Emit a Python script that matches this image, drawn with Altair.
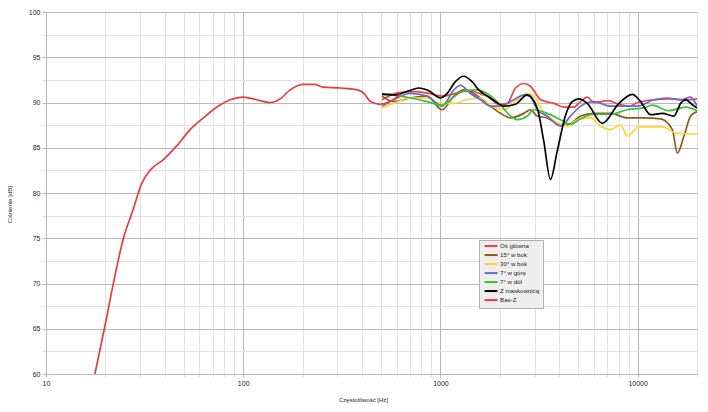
import altair as alt
import pandas as pd

# ---- data ----
bas_f = [17.7, 19.9, 22.0, 24.7, 27.7, 30.5, 33.7, 39.4, 46, 53.8, 62.8, 73.6, 86, 100,
         117, 137, 154, 173, 203, 228, 254, 311, 379, 409, 442, 494, 555, 624]
bas_db = [60.0, 65.3, 70.1, 75.0, 78.2, 81.0, 82.5, 83.7, 85.2, 87.0, 88.3, 89.5, 90.3, 90.6,
          90.3, 90.0, 90.4, 91.4, 92.0, 92.0, 91.7, 91.6, 91.4, 91.0, 90.1, 89.8, 90.1, 90.9]

os_f = [506, 614, 747, 873, 1020, 1191, 1393, 1628, 1795, 1968, 2178, 2404, 2650, 2862, 3220,
        3760, 4230, 4750, 5139, 5555, 6000, 7100, 8040, 9000, 10000, 12000, 14400, 17500, 20000]
os_db = [90.3, 91.1, 91.2, 91.0, 90.7, 91.0, 91.3, 90.9, 90.5, 89.8, 89.9, 91.6, 92.1, 91.8, 90.3,
         89.9, 89.5, 89.5, 90.1, 90.6, 90.0, 90.2, 89.8, 89.6, 90.0, 90.3, 90.4, 90.3, 90.4]

b15_f = [506, 579, 705, 855, 1020, 1169, 1313, 1476, 1725, 2019, 2270, 2648, 2862, 3095, 3478,
         4066, 4395, 5139, 6000, 7294, 8860, 10760, 13090, 15000, 15900, 17180, 18570, 20000]
b15_db = [90.7, 90.1, 90.5, 90.7, 89.2, 90.7, 91.4, 91.0, 89.9, 88.8, 88.3, 88.8, 89.2, 88.5, 88.3,
          87.5, 87.5, 88.5, 88.8, 88.8, 88.3, 88.3, 88.2, 87.0, 84.4, 86.3, 88.5, 89.0]

b30_f = [506, 579, 705, 855, 1000, 1169, 1365, 1596, 1795, 2096, 2448, 2755, 2977, 3347, 3692,
         4400, 4945, 5772, 6489, 7294, 8200, 8870, 10150, 13350, 15750, 20000]
b30_db = [89.4, 89.9, 90.5, 90.5, 89.9, 89.9, 90.3, 90.5, 89.7, 89.2, 90.3, 91.0, 90.7, 88.8, 88.1,
          87.4, 88.1, 88.3, 87.4, 87.0, 87.5, 86.3, 87.3, 87.3, 86.6, 86.5]

up7_f = [506, 579, 705, 855, 1020, 1169, 1263, 1420, 1596, 1795, 2019, 2356, 2648, 2862, 3095,
         3478, 4066, 4571, 5139, 6000, 7294, 8530, 9950, 12100, 14150, 16520, 18570, 20000]
up7_db = [89.6, 90.3, 91.0, 90.7, 89.6, 91.4, 91.9, 91.0, 90.3, 89.6, 89.6, 90.3, 90.85, 90.6, 89.2,
          88.5, 87.4, 88.5, 89.6, 90.1, 89.6, 89.6, 89.6, 90.3, 90.5, 90.3, 90.6, 89.6]

dn7_f = [506, 579, 705, 855, 1020, 1169, 1313, 1534, 1725, 2019, 2270, 2448, 2755, 2977, 3478,
         4066, 4571, 5139, 6000, 7294, 8860, 10760, 11870, 14420, 17530, 20000]
dn7_db = [91.0, 90.85, 90.5, 90.1, 89.7, 90.6, 91.3, 91.4, 91.0, 89.7, 88.5, 88.1, 88.5, 89.2, 88.8,
          88.1, 87.6, 88.2, 88.7, 88.7, 89.2, 89.4, 89.7, 89.1, 89.5, 89.1]

mask_f = [506, 592, 691, 776, 873, 1000, 1081, 1191, 1313, 1448, 1565, 1758, 1900, 2100, 2400,
          2754, 3095, 3344, 3614, 3908, 4312, 4660, 5040, 5555, 6620, 8040, 9400, 10350, 11640,
          13350, 15270, 16520, 17530, 18950, 20000]
mask_db = [90.9, 90.85, 91.3, 91.6, 91.3, 90.5, 91.0, 92.3, 92.9, 92.3, 91.4, 90.6, 90.1, 89.6, 89.8,
           90.85, 89.4, 85.7, 81.5, 84.6, 88.6, 90.1, 90.4, 89.9, 87.7, 89.9, 90.9, 90.1, 88.65,
           88.8, 88.5, 89.9, 90.3, 89.75, 89.4]

series_names = ["Oś główna", "15° w bok", "30° w bok", "7° w górę", "7° w dół", "Z maskownicą", "Bas-Z"]
series_colors = ["#ee4444", "#8b5a1a", "#ffd333", "#6b6bcf", "#3cbf3c", "#000000", "#e83c3c"]
series_data = [(os_f, os_db), (b15_f, b15_db), (b30_f, b30_db), (up7_f, up7_db),
               (dn7_f, dn7_db), (mask_f, mask_db), (bas_f, bas_db)]

x_ticks = [10, 20, 30, 40, 50, 60, 70, 80, 90,
           100, 200, 300, 400, 500, 600, 700, 800, 900,
           1000, 2000, 3000, 4000, 5000, 6000, 7000, 8000, 9000,
           10000, 20000]
x_major = [10, 100, 1000, 10000]
y_ticks = [60, 62.5, 65, 67.5, 70, 72.5, 75, 77.5, 80, 82.5, 85, 87.5, 90, 92.5, 95, 97.5, 100]

rows = []
for name, (fs, dbs) in zip(series_names, series_data):
    for f, d in zip(fs, dbs):
        rows.append({"series": name, "f": f, "db": d})
df = pd.DataFrame(rows)

major_test = "indexof([10,100,1000,10000], datum.value) >= 0"
grid_major = "#b8b8b8"
grid_minor = "#e2e2e2"

chart = alt.Chart(df).mark_line(interpolate="monotone", strokeWidth=1.7, clip=True).encode(
    x=alt.X("f:Q",
            scale=alt.Scale(type="log", domain=[10, 20000], nice=False),
            axis=alt.Axis(values=x_ticks, format="d",
                          labelExpr=major_test + " ? datum.label : ''",
                          labelOverlap=False, labelFlush=False,
                          gridColor={"condition": {"test": major_test, "value": grid_major}, "value": grid_minor},
                          tickColor={"condition": {"test": major_test, "value": grid_major}, "value": grid_minor},
                          tickSize=3, labelPadding=2, labelFontSize=7,
                          title="Częstotliwość [Hz]", titleFontSize=6, titleFontWeight="normal",
                          titlePadding=10, titleX=317)),
    y=alt.Y("db:Q",
            scale=alt.Scale(domain=[60, 100], nice=False, zero=False),
            axis=alt.Axis(values=y_ticks,
                          labelExpr="datum.value % 5 == 0 ? datum.label : ''",
                          labelOverlap=False, labelFlush=False,
                          gridColor={"condition": {"test": "datum.value % 5 == 0", "value": grid_major}, "value": grid_minor},
                          tickColor={"condition": {"test": "datum.value % 5 == 0", "value": grid_major}, "value": grid_minor},
                          tickSize=4, labelPadding=2, labelFontSize=7,
                          title="Ciśnienie [dB]", titleFontSize=6, titleFontWeight="normal",
                          titleX=-34, titleY=192)),
    color=alt.Color("series:N",
                    scale=alt.Scale(domain=series_names, range=series_colors),
                    legend=alt.Legend(title=None, orient="none", legendX=433, legendY=228,
                                      symbolType="M-1,0H25", symbolStrokeWidth=2, symbolSize=1,
                                      labelFontSize=6.1, rowPadding=0, labelOffset=12,
                                      padding=3, fillColor="#eeeeee", strokeColor="#b0b0b0")),
    order=alt.Order("f:Q"),
).properties(
    width=651, height=362,
    autosize=alt.AutoSizeParams(type="none"),
    padding={"left": 38, "top": 4, "right": 3, "bottom": 30},
).configure_axis(
    domainColor=grid_major, labelColor="#222222", titleColor="#222222",
    labelFont="Liberation Sans", titleFont="Liberation Sans",
).configure_legend(
    labelFont="Liberation Sans", labelColor="#222222",
).configure_view(stroke=None)

chart.save("out.html", embed_options={"renderer": "svg", "actions": False})
